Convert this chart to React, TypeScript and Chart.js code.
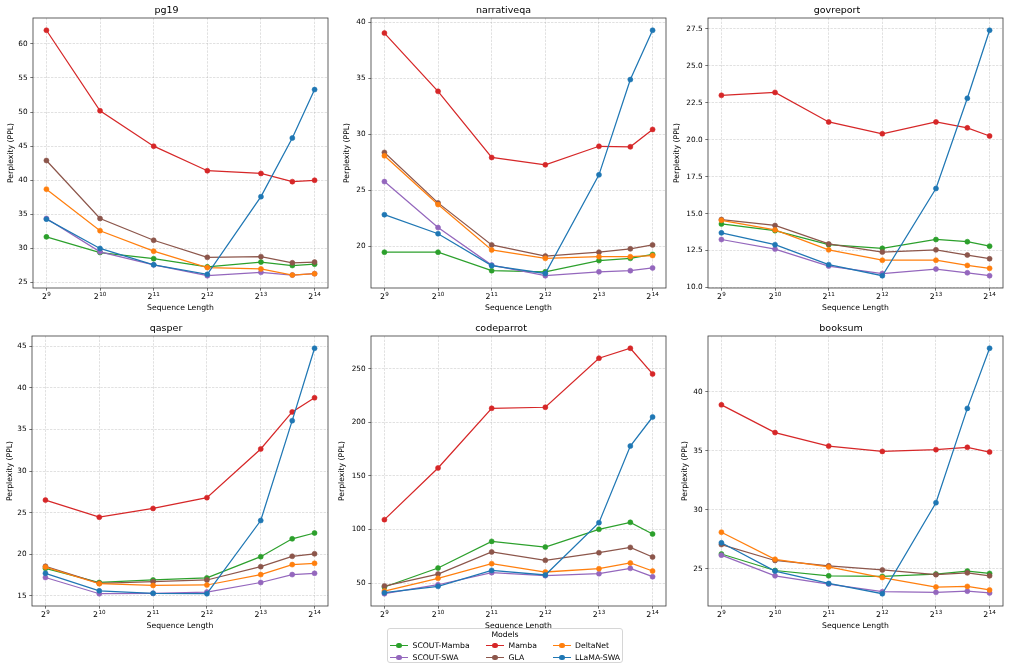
import { useEffect, useRef } from "react";
import { Chart, registerables } from "chart.js";

Chart.register(...registerables);

// ---------------- data ----------------
const seqLengths = [512, 1024, 2048, 4096, 8192, 12288, 16384];
const xTickValues = [512, 1024, 2048, 4096, 8192, 16384];
const xTickBase = "2";
const xTickExponents = ["9", "10", "11", "12", "13", "14"];

const models = ["SCOUT-Mamba", "SCOUT-SWA", "Mamba", "GLA", "DeltaNet", "LLaMA-SWA"];
const modelColors = ["#2ca02c", "#9467bd", "#d62728", "#8c564b", "#ff7f0e", "#1f77b4"];

const datasetNames = ["pg19", "narrativeqa", "govreport", "qasper", "codeparrot", "booksum"];

// pg19
const pg19ScoutMamba = [31.7, 29.4, 28.5, 27.3, 28.0, 27.5, 27.7];
const pg19ScoutSWA = [34.4, 29.5, 27.6, 26.0, 26.5, 26.1, 26.3];
const pg19Mamba = [62.0, 50.2, 45.0, 41.4, 41.0, 39.8, 40.0];
const pg19GLA = [42.9, 34.4, 31.2, 28.7, 28.8, 27.9, 28.0];
const pg19DeltaNet = [38.7, 32.6, 29.6, 27.2, 27.0, 26.1, 26.3];
const pg19LlamaSWA = [34.3, 30.0, 27.6, 26.2, 37.6, 46.2, 53.3];
const pg19Ticks = [25, 30, 35, 40, 45, 50, 55, 60];
const pg19TickLabels = ["25", "30", "35", "40", "45", "50", "55", "60"];

// narrativeqa
const nqaScoutMamba = [19.5, 19.5, 17.85, 17.75, 18.75, 18.95, 19.3];
const nqaScoutSWA = [25.8, 21.7, 18.35, 17.4, 17.75, 17.85, 18.1];
const nqaMamba = [39.05, 33.85, 27.95, 27.3, 28.95, 28.9, 30.45];
const nqaGLA = [28.4, 23.9, 20.15, 19.15, 19.5, 19.8, 20.15];
const nqaDeltaNet = [28.1, 23.75, 19.7, 18.95, 19.1, 19.1, 19.2];
const nqaLlamaSWA = [22.85, 21.15, 18.3, 17.6, 26.4, 34.9, 39.3];
const nqaTicks = [20, 25, 30, 35, 40];
const nqaTickLabels = ["20", "25", "30", "35", "40"];

// govreport
const govScoutMamba = [14.3, 13.85, 12.9, 12.65, 13.25, 13.1, 12.8];
const govScoutSWA = [13.25, 12.6, 11.45, 10.95, 11.25, 11.0, 10.8];
const govMamba = [23.0, 23.2, 21.2, 20.4, 21.2, 20.8, 20.25];
const govGLA = [14.6, 14.2, 12.95, 12.4, 12.55, 12.2, 11.95];
const govDeltaNet = [14.55, 13.9, 12.55, 11.85, 11.85, 11.5, 11.3];
const govLlamaSWA = [13.7, 12.9, 11.55, 10.8, 16.7, 22.8, 27.4];
const govTicks = [10, 12.5, 15, 17.5, 20, 22.5, 25, 27.5];
const govTickLabels = ["10.0", "12.5", "15.0", "17.5", "20.0", "22.5", "25.0", "27.5"];

// qasper
const qasScoutMamba = [18.3, 16.6, 16.9, 17.15, 19.7, 21.85, 22.55];
const qasScoutSWA = [17.2, 15.25, 15.3, 15.45, 16.6, 17.55, 17.7];
const qasMamba = [26.5, 24.45, 25.5, 26.8, 32.65, 37.1, 38.8];
const qasGLA = [18.55, 16.5, 16.7, 16.9, 18.5, 19.75, 20.05];
const qasDeltaNet = [18.45, 16.45, 16.25, 16.3, 17.55, 18.75, 18.9];
const qasLlamaSWA = [17.7, 15.6, 15.3, 15.25, 24.05, 36.05, 44.75];
const qasTicks = [15, 20, 25, 30, 35, 40, 45];
const qasTickLabels = ["15", "20", "25", "30", "35", "40", "45"];

// codeparrot
const cpScoutMamba = [46.3, 64.0, 88.9, 83.6, 100.2, 106.7, 95.8];
const cpScoutSWA = [40.0, 48.4, 59.7, 56.9, 58.7, 63.7, 55.9];
const cpMamba = [109.2, 157.5, 213.2, 214.2, 260.0, 269.3, 245.3];
const cpGLA = [47.2, 58.4, 79.0, 71.2, 78.3, 83.3, 74.3];
const cpDeltaNet = [42.5, 54.4, 68.1, 60.3, 63.4, 68.7, 61.2];
const cpLlamaSWA = [41.0, 46.9, 61.8, 57.5, 106.4, 178.0, 205.1];
const cpTicks = [50, 100, 150, 200, 250];
const cpTickLabels = ["50", "100", "150", "200", "250"];

// booksum
const bsScoutMamba = [26.25, 24.85, 24.4, 24.35, 24.55, 24.8, 24.6];
const bsScoutSWA = [26.15, 24.4, 23.7, 23.05, 23.0, 23.1, 22.95];
const bsMamba = [38.9, 36.55, 35.4, 34.95, 35.1, 35.3, 34.9];
const bsGLA = [27.05, 25.7, 25.25, 24.9, 24.5, 24.65, 24.4];
const bsDeltaNet = [28.1, 25.8, 25.15, 24.25, 23.45, 23.5, 23.2];
const bsLlamaSWA = [27.2, 24.8, 23.75, 22.88, 30.6, 38.6, 43.7];
const bsTicks = [25, 30, 35, 40];
const bsTickLabels = ["25", "30", "35", "40"];

const panelSeries = [
  [pg19ScoutMamba, pg19ScoutSWA, pg19Mamba, pg19GLA, pg19DeltaNet, pg19LlamaSWA],
  [nqaScoutMamba, nqaScoutSWA, nqaMamba, nqaGLA, nqaDeltaNet, nqaLlamaSWA],
  [govScoutMamba, govScoutSWA, govMamba, govGLA, govDeltaNet, govLlamaSWA],
  [qasScoutMamba, qasScoutSWA, qasMamba, qasGLA, qasDeltaNet, qasLlamaSWA],
  [cpScoutMamba, cpScoutSWA, cpMamba, cpGLA, cpDeltaNet, cpLlamaSWA],
  [bsScoutMamba, bsScoutSWA, bsMamba, bsGLA, bsDeltaNet, bsLlamaSWA],
];
const panelTicks = [pg19Ticks, nqaTicks, govTicks, qasTicks, cpTicks, bsTicks];
const panelTickLabels = [pg19TickLabels, nqaTickLabels, govTickLabels, qasTickLabels, cpTickLabels, bsTickLabels];

// ---------------- layout ----------------
const FONT = "'DejaVu Sans', sans-serif";
const panelLayout = [
  { axisL: 33, axisR: 328, axisT: 18, axisB: 288, labelX: 11 },
  { axisL: 371, axisR: 666, axisT: 18, axisB: 288, labelX: 347 },
  { axisL: 708, axisR: 1003, axisT: 18, axisB: 288, labelX: 677 },
  { axisL: 32, axisR: 328, axisT: 336, axisB: 606, labelX: 10 },
  { axisL: 371, axisR: 666, axisT: 336, axisB: 606, labelX: 342 },
  { axisL: 708, axisR: 1003, axisT: 336, axisB: 606, labelX: 685 },
];

const framePlugin = {
  id: "frameBox",
  afterDraw(chart: any) {
    const { ctx, chartArea: a } = chart;
    ctx.save();
    ctx.strokeStyle = "#3a3a3a";
    ctx.lineWidth = 0.8;
    ctx.strokeRect(a.left, a.top, a.right - a.left, a.bottom - a.top);
    ctx.restore();
  },
};

// power-of-two tick labels: base at normal size, exponent as a raised superscript
const powerTickPlugin = {
  id: "powerTicks",
  afterDraw(chart: any) {
    const { ctx, chartArea: a } = chart;
    const xs = chart.scales.x;
    const baseFont = `7.8px ${FONT}`;
    const expFont = `5.6px ${FONT}`;
    const baseline = a.bottom + 11.3;
    ctx.save();
    ctx.fillStyle = "#000";
    ctx.textBaseline = "alphabetic";
    ctx.textAlign = "left";
    xTickValues.forEach((v, i) => {
      const px = xs.getPixelForValue(v);
      ctx.font = baseFont;
      const wb = ctx.measureText(xTickBase).width;
      ctx.font = expFont;
      const we = ctx.measureText(xTickExponents[i]).width;
      const start = px - (wb + we + 0.4) / 2;
      ctx.font = baseFont;
      ctx.fillText(xTickBase, start, baseline);
      ctx.font = expFont;
      ctx.fillText(xTickExponents[i], start + wb + 0.4, baseline - 3.1);
    });
    ctx.restore();
  },
};

function Panel({ index }: { index: number }) {
  const ref = useRef<HTMLCanvasElement | null>(null);
  const L = panelLayout[index];
  const left = L.labelX - 6;
  const top = L.axisT - 18;
  const width = L.axisR + 10 - left;
  const height = L.axisB + 26 - top;
  const yW = L.axisL - left;

  useEffect(() => {
    if (!ref.current) return;
    const series = panelSeries[index];
    const all = series.flat();
    const dmin = Math.min(...all);
    const dmax = Math.max(...all);
    const pad = (dmax - dmin) * 0.05;
    const ticks = panelTicks[index];
    const labels = panelTickLabels[index];
    const n = models.length;

    const chart = new Chart(ref.current, {
      type: "line",
      data: {
        datasets: models.map((m, i) => ({
          label: m,
          data: seqLengths.map((x, k) => ({ x, y: series[i][k] })),
          borderColor: modelColors[i],
          backgroundColor: modelColors[i],
          pointBackgroundColor: modelColors[i],
          pointBorderColor: modelColors[i],
          pointBorderWidth: 0.6,
          pointRadius: 2.5,
          borderWidth: 1.25,
          tension: 0,
          order: n - i,
        })),
      },
      options: {
        animation: false,
        responsive: true,
        maintainAspectRatio: false,
        layout: { padding: { left: 0, right: 10, top: 0, bottom: 0 } },
        plugins: {
          legend: { display: false },
          tooltip: { enabled: false },
          title: {
            display: true,
            text: datasetNames[index],
            color: "#000",
            font: { family: FONT, size: 9.5, weight: "normal" },
            padding: { top: 5.3, bottom: 1.3 },
          },
        },
        scales: {
          x: {
            type: "logarithmic",
            bounds: "data",
            min: Math.pow(2, 8.75),
            max: Math.pow(2, 14.25),
            afterBuildTicks: (s: any) => {
              s.ticks = xTickValues.map((v) => ({ value: v }));
            },
            afterFit: (s: any) => {
              s.height = 26;
            },
            ticks: {
              display: false,
              autoSkip: false,
              maxRotation: 0,
            },
            grid: {
              color: "rgba(176,176,176,0.55)",
              lineWidth: 0.7,
              tickColor: "#3a3a3a",
              tickLength: 2.7,
              tickWidth: 0.7,
            },
            border: { display: false, dash: [2.4, 1.2] },
            title: {
              display: true,
              text: "Sequence Length",
              color: "#000",
              font: { family: FONT, size: 7.7 },
              padding: { top: 0, bottom: 1.4 },
            },
          },
          y: {
            type: "linear",
            bounds: "data",
            min: dmin - pad,
            max: dmax + pad,
            afterBuildTicks: (s: any) => {
              s.ticks = ticks.map((v) => ({ value: v }));
            },
            afterFit: (s: any) => {
              s.width = yW;
            },
            ticks: {
              autoSkip: false,
              color: "#000",
              padding: 2.7,
              font: { family: FONT, size: 7.3 },
              callback: (_v: any, i: number) => labels[i],
            },
            grid: {
              color: "rgba(176,176,176,0.55)",
              lineWidth: 0.7,
              tickColor: "#3a3a3a",
              tickLength: 2.7,
              tickWidth: 0.7,
            },
            border: { display: false, dash: [2.4, 1.2] },
            title: {
              display: true,
              text: "Perplexity (PPL)",
              color: "#000",
              font: { family: FONT, size: 7.7 },
              padding: { top: 1.5, bottom: 0 },
            },
          },
        },
      } as any,
      plugins: [framePlugin, powerTickPlugin],
    });
    return () => chart.destroy();
  }, [index]);

  return (
    <div style={{ position: "absolute", left, top, width, height }}>
      <canvas ref={ref} />
    </div>
  );
}

const legendColumns = [
  { handle: 2, text: 24.5 },
  { handle: 98, text: 120.5 },
  { handle: 165, text: 187 },
];

function Legend() {
  // matplotlib ncol=3 fills column-wise
  const entries = models.map((m, i) => ({
    name: m,
    color: modelColors[i],
    col: Math.floor(i / 2),
    row: i % 2,
  }));
  return (
    <div
      style={{
        position: "absolute",
        left: 387,
        top: 628,
        width: 236,
        height: 35,
        boxSizing: "border-box",
        border: "1px solid #d6d6d6",
        borderRadius: 3,
        background: "rgba(255,255,255,0.85)",
        fontFamily: FONT,
        fontSize: 7.7,
        color: "#000",
        zIndex: 2,
      }}
    >
      <div
        style={{
          position: "absolute",
          left: 0,
          width: "100%",
          top: 0,
          height: 11,
          lineHeight: "11px",
          textAlign: "center",
          whiteSpace: "nowrap",
        }}
      >
        Models
      </div>
      {entries.map((e) => {
        const c = legendColumns[e.col];
        const cy = e.row === 0 ? 16.5 : 28.5;
        return (
          <div key={e.name}>
            <div
              style={{
                position: "absolute",
                left: c.handle,
                top: cy - 0.6,
                width: 17.5,
                height: 1.2,
                background: e.color,
              }}
            />
            <div
              style={{
                position: "absolute",
                left: c.handle + 8.75 - 2.8,
                top: cy - 2.8,
                width: 5.6,
                height: 5.6,
                borderRadius: "50%",
                background: e.color,
              }}
            />
            <div
              style={{
                position: "absolute",
                left: c.text,
                top: cy - 5,
                height: 10,
                lineHeight: "10px",
                whiteSpace: "nowrap",
              }}
            >
              {e.name}
            </div>
          </div>
        );
      })}
    </div>
  );
}

export default function App() {
  return (
    <div
      style={{
        position: "fixed",
        left: 0,
        top: 0,
        width: 1010,
        height: 671,
        background: "#fff",
        overflow: "hidden",
      }}
    >
      {datasetNames.map((_, i) => (
        <Panel key={i} index={i} />
      ))}
      <Legend />
    </div>
  );
}
